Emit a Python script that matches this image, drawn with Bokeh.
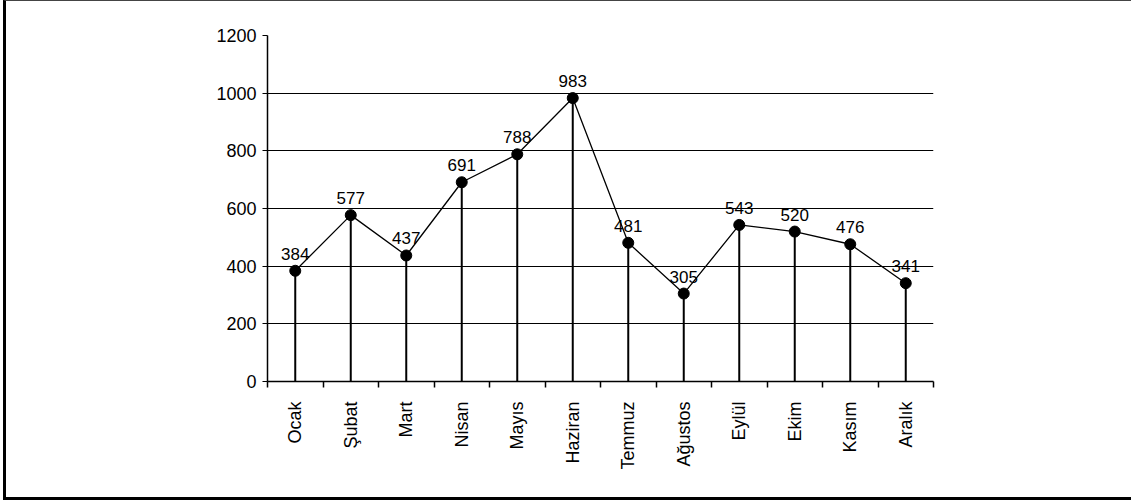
from bokeh.plotting import figure
from bokeh.models import Range1d, FixedTicker, ColumnDataSource, LabelSet
from bokeh.core.properties import value
from bokeh.layouts import column
from bokeh.embed import file_html
from bokeh.resources import INLINE
import math

months = ["Ocak", "Şubat", "Mart", "Nisan", "Mayıs", "Haziran", "Temmuz",
          "Ağustos", "Eylül", "Ekim", "Kasım", "Aralık"]
values = [384, 577, 437, 691, 788, 983, 481, 305, 543, 520, 476, 341]
y_ticks = [0, 200, 400, 600, 800, 1000, 1200]

xs = list(range(1, len(months) + 1))
src = ColumnDataSource(dict(x=xs, y=values, lbl=[str(v) for v in values],
                            zero=[0] * len(values)))

FONT = "Liberation Sans"

p = figure(output_backend="svg", toolbar_location=None,
           frame_width=666, frame_height=346,
           min_border_left=261, min_border_right=198,
           min_border_top=34, min_border_bottom=116,
           x_range=Range1d(0.5, len(months) + 0.5),
           y_range=Range1d(0, 1200))
p.outline_line_color = None
p.background_fill_color = "white"
p.border_fill_color = "white"

# grid
p.xgrid.visible = False
p.ygrid.ticker = FixedTicker(ticks=y_ticks)
p.ygrid.grid_line_color = "black"
p.ygrid.grid_line_width = 1.2

# y axis
p.yaxis.ticker = FixedTicker(ticks=y_ticks)
p.yaxis.axis_line_color = "black"
p.yaxis.axis_line_width = 1.5
p.yaxis.major_tick_in = 0
p.yaxis.major_tick_out = 5
p.yaxis.major_tick_line_width = 1.2
p.yaxis.minor_tick_line_color = None
p.yaxis.major_label_standoff = 6
p.yaxis.major_label_text_font = FONT
p.yaxis.major_label_text_font_size = "18px"
p.yaxis.major_label_text_color = "black"

# x axis
p.xaxis.ticker = FixedTicker(ticks=xs, minor_ticks=[i + 0.5 for i in range(len(months) + 1)])
p.xaxis.major_label_overrides = {i + 1: m for i, m in enumerate(months)}
p.xaxis.major_label_orientation = math.pi / 2
p.xaxis.axis_line_color = "black"
p.xaxis.axis_line_width = 1.5
p.xaxis.major_tick_in = 0
p.xaxis.major_tick_out = 0
p.xaxis.minor_tick_in = 0
p.xaxis.minor_tick_out = 6
p.xaxis.minor_tick_line_color = "black"
p.xaxis.minor_tick_line_width = 1.5
p.xaxis.major_label_standoff = 14
p.xaxis.major_label_text_font = FONT
p.xaxis.major_label_text_font_size = "18px"
p.xaxis.major_label_text_color = "black"

# stems
p.segment(x0="x", y0="zero", x1="x", y1="y", source=src, line_color="black", line_width=2)
# line
p.line(x="x", y="y", source=src, line_color="black", line_width=1.3)
# markers
p.scatter(x="x", y="y", source=src, size=11, fill_color="black", line_color="black")

labels = LabelSet(x="x", y="y", text="lbl", source=src, text_align="center",
                  text_baseline="bottom", y_offset=11, text_font=value(FONT),
                  text_font_size="17px", text_color="black")
p.add_layout(labels)

layout = column(p, styles={"margin-left": "3px",
                           "border-left": "3px solid #000",
                           "border-top": "1px solid #444",
                           "border-bottom": "3px solid #000"})

open("out.html", "w").write(file_html(layout, INLINE))
